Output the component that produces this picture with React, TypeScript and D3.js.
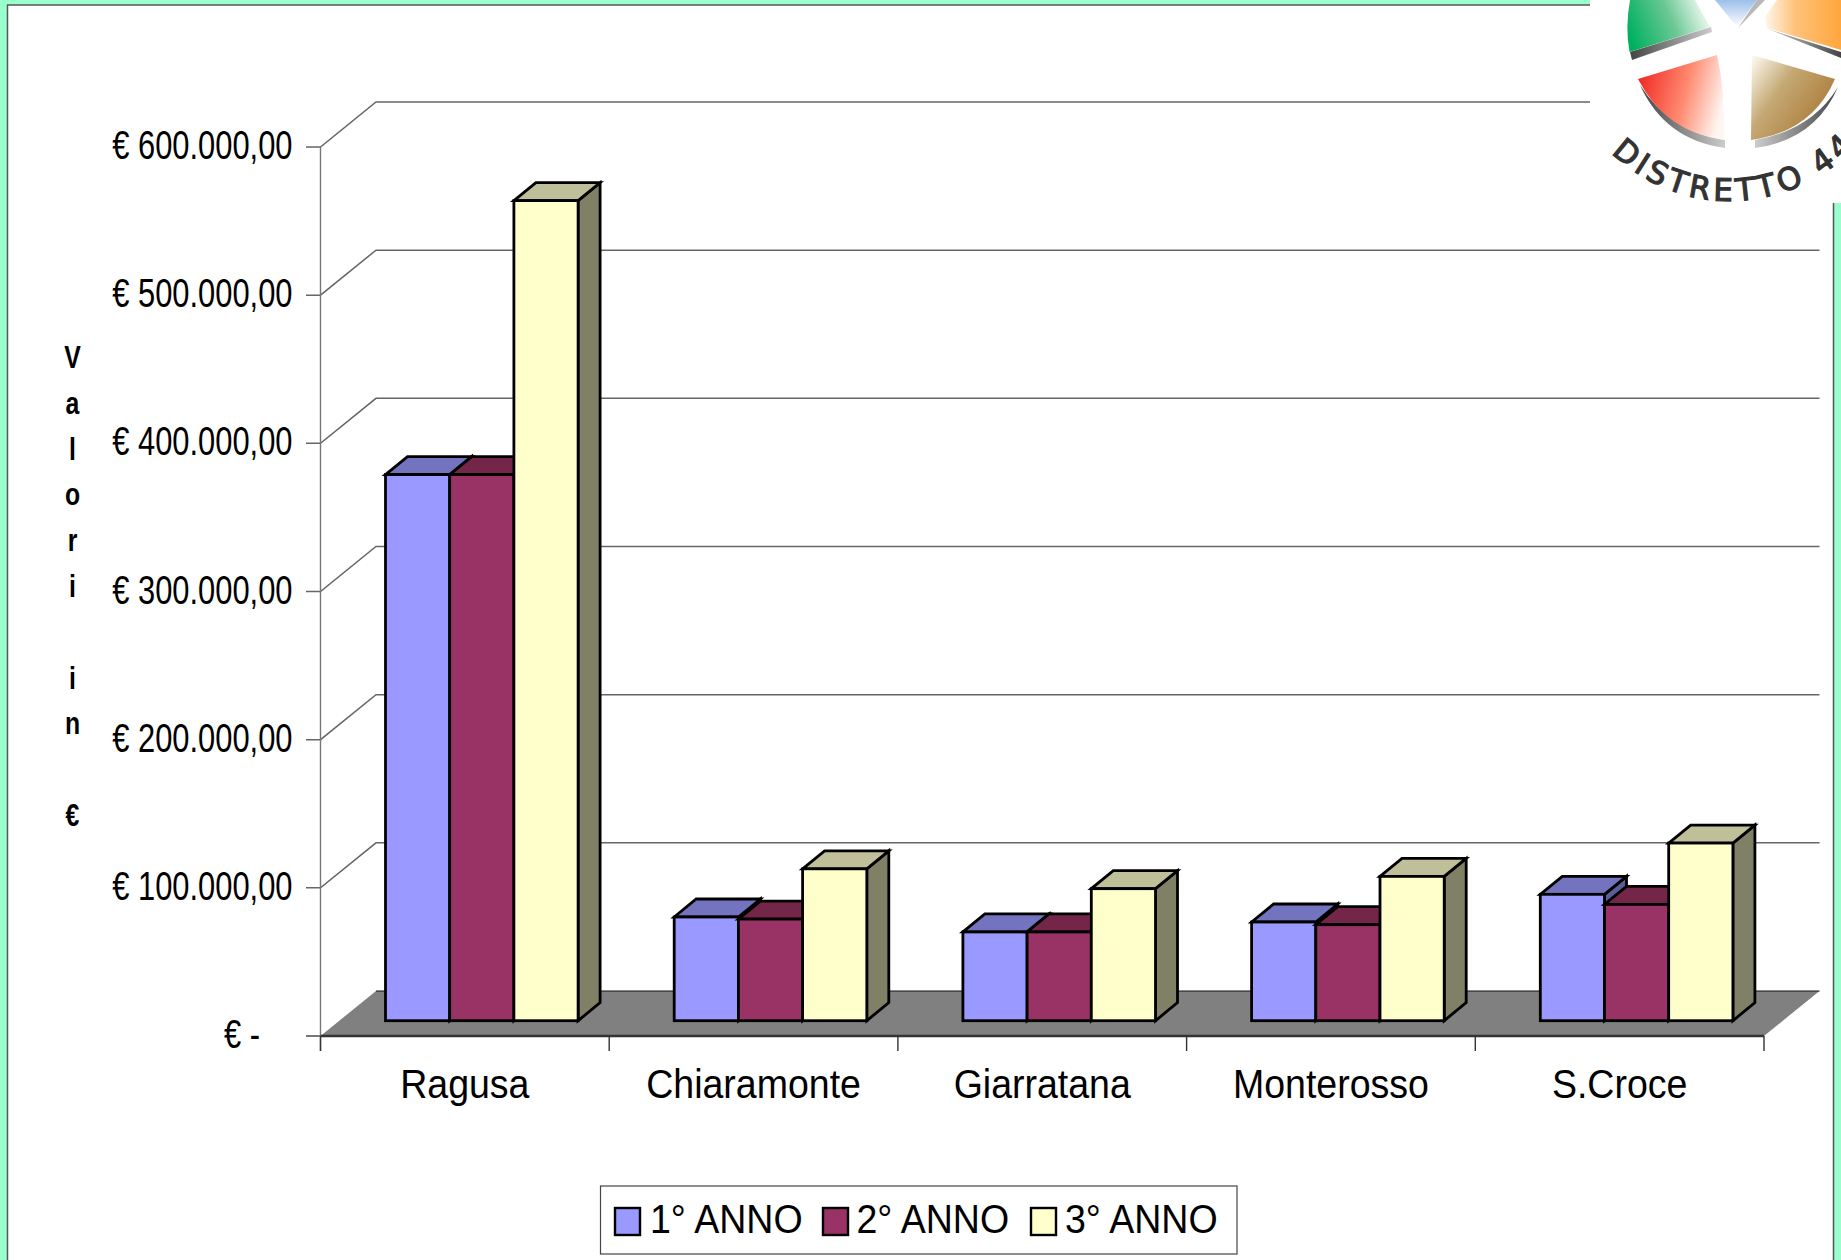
import React from "react";
import * as d3 from "d3";

const W = 1841, H = 1260;
const categories = ["Ragusa", "Chiaramonte", "Giarratana", "Monterosso", "S.Croce"];
const seriesNames = ["1° ANNO", "2° ANNO", "3° ANNO"];
const anno1 = [368600, 70000, 59900, 66600, 85300];
const anno2 = [368600, 68600, 59900, 64800, 78500];
const anno3 = [553500, 102500, 89100, 97400, 119900];
const tickValues = [0, 100000, 200000, 300000, 400000, 500000, 600000];
const tickLabels = ["€ -", "€ 100.000,00", "€ 200.000,00", "€ 300.000,00", "€ 400.000,00", "€ 500.000,00", "€ 600.000,00"];
const axisTitle = "Valori in €";
const seriesColors = ["#9999FF", "#993366", "#FFFFCC"];
const topColors = ["#7373BF", "#732648", "#BFBF99"];
const sideColors = ["#5C5C99", "#4D1933", "#808066"];

const series = [anno1, anno2, anno3];
const FONT = "'Liberation Sans', Arial, sans-serif";

const y = d3.scaleLinear().domain([0, 600000]).range([1036, 147]);
const x = d3.scaleBand<string>().domain(categories).range([320.5, 1764]);
const inner = d3.scaleBand<number>().domain([0, 1, 2]).range([65, 65 + 192.6]);
const WALL_DX = 55.5, WALL_DY = 45;
const BAR_DX = 22, BAR_DY = 18, BAR_LIFT = 15.3;

function T({ x: tx, y: ty, sx, size, anchor = "start", weight = "normal", children }: any) {
  return (
    <text transform={`translate(${tx},${ty}) scale(${sx},1)`} fontFamily={FONT} fontSize={size}
      textAnchor={anchor} fontWeight={weight} fill="#000">{children}</text>
  );
}

function Logo() {
  const p = d3.path();
  p.arc(1730, 30, 171, (134 * Math.PI) / 180, (15 * Math.PI) / 180, true);
  return (
    <g>
      <defs>
        <linearGradient id="gG" x1="0" y1="0.6" x2="1" y2="0.35"><stop offset="0" stopColor="#00B060" /><stop offset="0.55" stopColor="#6CC894" /><stop offset="1" stopColor="#F2FBF5" /></linearGradient>
        <linearGradient id="gR" x1="0" y1="0.3" x2="1" y2="0.55"><stop offset="0" stopColor="#F02A25" /><stop offset="0.55" stopColor="#FF8A70" /><stop offset="1" stopColor="#FFF6F2" /></linearGradient>
        <linearGradient id="gB" x1="1" y1="0.75" x2="0" y2="0.05"><stop offset="0" stopColor="#A87430" /><stop offset="0.6" stopColor="#C4A873" /><stop offset="1" stopColor="#FDF9F0" /></linearGradient>
        <linearGradient id="gO" x1="1" y1="0.5" x2="0" y2="0.5"><stop offset="0" stopColor="#FFA63C" /><stop offset="0.6" stopColor="#FFC27A" /><stop offset="1" stopColor="#FFF6EA" /></linearGradient>
        <linearGradient id="gL" x1="0" y1="1" x2="0" y2="0"><stop offset="0" stopColor="#FFFFFF" /><stop offset="1" stopColor="#9CC0EA" /></linearGradient>
        <linearGradient id="gS" x1="0" y1="0" x2="1" y2="0"><stop offset="0" stopColor="#444" /><stop offset="1" stopColor="#CCC" /></linearGradient>
        <linearGradient id="gS2" x1="1" y1="0" x2="0" y2="0"><stop offset="0" stopColor="#444" /><stop offset="1" stopColor="#CCC" /></linearGradient>
      </defs>
      <rect x={1590} y={0} width={251} height={203} fill="#fff" />
      <path d="M1630,0 Q1625,27 1629.5,52 L1710,27 L1695,0 Z" fill="url(#gG)" />
      <path d="M1630,52 L1711,27 L1712,32 L1632,60 Z" fill="url(#gS)" />
      <path d="M1715,0 L1737,27 L1757,0 Z" fill="url(#gL)" />
      <path d="M1738,28 L1765,0 L1757,0 Z" fill="#B8B8B8" />
      <path d="M1777,0 L1765,17 L1767,28 L1841,50 L1841,0 Z" fill="url(#gO)" />
      <path d="M1768,29 L1841,58 L1841,52 Z" fill="url(#gS2)" />
      <path d="M1640,85 Q1665,140 1725,148 L1725,140 Q1670,132 1640,85 Z" fill="url(#gS)" />
      <path d="M1638,79 L1717,55 Q1725,90 1724,140 Q1665,132 1638,79 Z" fill="url(#gR)" />
      <path d="M1838,87 Q1815,140 1755,148 L1755,140 Q1812,130 1838,87 Z" fill="url(#gS2)" />
      <path d="M1752,55 L1835,79 Q1812,132 1751,140 Z" fill="url(#gB)" />
      <path id="logoArc" d={p.toString()} fill="none" />
      <text fontFamily="'DejaVu Sans', sans-serif" fontSize={31} fill="#333" stroke="#333" strokeWidth={1.2} letterSpacing={4.2}>
        <textPath href="#logoArc">DISTRETTO 44</textPath>
      </text>
    </g>
  );
}

export default function App() {
  return (
    <svg width={W} height={H} viewBox={`0 0 ${W} ${H}`} style={{ position: "fixed", left: 0, top: 0, background: "#99FFCC" }}>
      <rect x={7.5} y={5} width={1826} height={H} fill="#fff" stroke="#555" strokeWidth={1.5} />

      {/* walls and gridlines */}
      {tickValues.slice(1).map((v) => (
        <polyline key={v} points={`306,${y(v)} 320.5,${y(v)} ${320.5 + WALL_DX},${y(v) - WALL_DY} ${1764 + WALL_DX},${y(v) - WALL_DY}`}
          fill="none" stroke="#666" strokeWidth={1.5} />
      ))}
      <line x1={320.5} x2={320.5} y1={y(600000)} y2={1051} stroke="#777" strokeWidth={1.4} />

      {/* floor */}
      <polygon points={`320.5,${y(0)} ${320.5 + WALL_DX},${y(0) - WALL_DY} ${1764 + WALL_DX},${y(0) - WALL_DY} 1764,${y(0)}`} fill="#808080" />
      <line x1={376} x2={1819.5} y1={y(0) - WALL_DY} y2={y(0) - WALL_DY} stroke="#111" strokeWidth={1.2} />
      <line x1={306} x2={320.5} y1={y(0)} y2={y(0)} stroke="#777" strokeWidth={2} />
      <line x1={320.5} x2={1764} y1={y(0)} y2={y(0)} stroke="#333" strokeWidth={2.5} />
      {categories.concat(["end"]).map((c, i) => {
        const tx = i < categories.length ? (x(c) as number) : 1764;
        return <line key={c} x1={tx} x2={tx} y1={y(0)} y2={1051} stroke="#333" strokeWidth={1.4} />;
      })}

      {/* y tick labels */}
      {tickValues.map((v, i) => (
        <T key={v} x={v === 0 ? 260 : 292.5} y={y(v) + 12} sx={0.772} size={40} anchor="end">{tickLabels[i]}</T>
      ))}

      {/* axis title */}
      {axisTitle.split("").map((ch, i) => (
        <T key={i} x={72.5} y={368 + i * 45.8} sx={0.8} size={31} anchor="middle" weight="bold">{ch}</T>
      ))}

      {/* bars */}
      {categories.map((c, ci) =>
        series.map((vals, si) => {
          const x0 = (x(c) as number) + (inner(si) as number);
          const w = inner.bandwidth();
          const base = y(0) - BAR_LIFT;
          const top = y(vals[ci]) - BAR_LIFT;
          return (
            <g key={c + si} stroke="#000" strokeWidth={2.8} strokeLinejoin="miter">
              <polygon points={`${x0 + w},${top} ${x0 + w + BAR_DX},${top - BAR_DY} ${x0 + w + BAR_DX},${base - BAR_DY} ${x0 + w},${base}`} fill={sideColors[si]} />
              <polygon points={`${x0},${top} ${x0 + BAR_DX},${top - BAR_DY} ${x0 + w + BAR_DX},${top - BAR_DY} ${x0 + w},${top}`} fill={topColors[si]} />
              <rect x={x0} y={top} width={w} height={base - top} fill={seriesColors[si]} />
            </g>
          );
        })
      )}

      {/* category labels */}
      {categories.map((c) => (
        <T key={c} x={(x(c) as number) + x.bandwidth() / 2} y={1098} sx={0.915} size={41} anchor="middle">{c}</T>
      ))}

      {/* legend */}
      <rect x={600.5} y={1186} width={636.5} height={68} fill="#fff" stroke="#444" strokeWidth={1.2} />
      {seriesNames.map((s, i) => {
        const sw = [615, 823, 1031][i];
        const tx = [650, 856.5, 1065][i];
        return (
          <g key={s}>
            <rect x={sw} y={1208} width={25} height={27} fill={seriesColors[i]} stroke="#000" strokeWidth={2.4} />
            <T x={tx} y={1233} sx={0.915} size={41}>{s}</T>
          </g>
        );
      })}

      <Logo />
    </svg>
  );
}
